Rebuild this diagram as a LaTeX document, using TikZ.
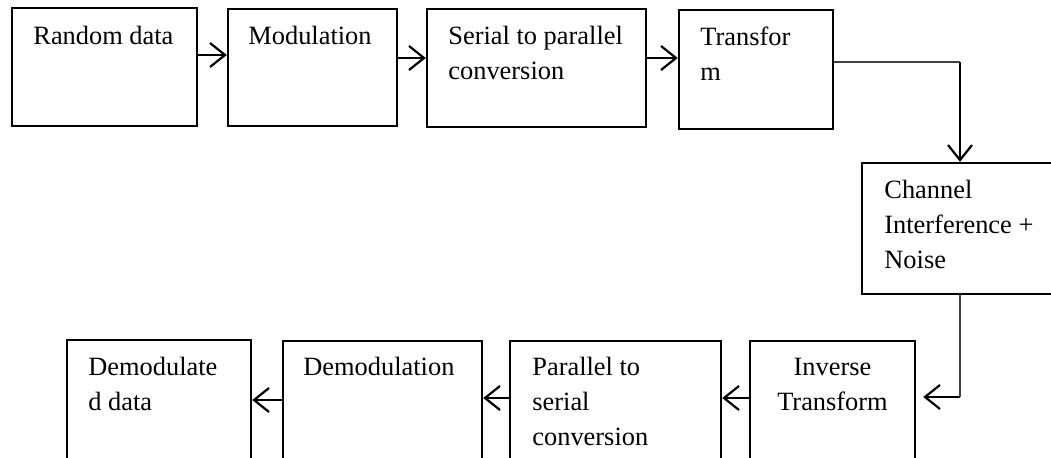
\documentclass[tikz,border=0pt]{standalone}
\usepackage{fontspec}
\setmainfont{Liberation Serif}
\usetikzlibrary{arrows.meta,fit}
\begin{document}
\begin{tikzpicture}[x=0.5pt,y=-0.5pt,
  box/.style={draw=black, line width=1.2pt, inner sep=0pt},
  txt/.style={inner sep=0pt, font=\fontsize{13.2}{17.5}\selectfont},
  arr/.style={draw=black, line width=1.1pt, -{Straight Barb[length=7.5pt,width=12pt,line width=1.1pt]}},
  wire/.style={draw=black!75, line width=0.6pt}]
\useasboundingbox (0,0) rectangle (1051,457);
\clip (0,0) rectangle (1051,457);

% transmitter chain
\node[box, fit={(12,8) (197,126)}] (b1) {};
\node[box, fit={(228,9) (397,126)}] (b2) {};
\node[box, fit={(427,9) (646,127)}] (b3) {};
\node[box, fit={(679,10) (833,129)}] (b4) {};
% channel
\node[box, fit={(862,163) (1058,294)}] (b5) {};
% receiver chain (runs off the lower edge)
\node[box, fit={(750,341) (915,480)}] (b6) {};
\node[box, fit={(510,341) (721,480)}] (b7) {};
\node[box, fit={(283,341) (482,480)}] (b8) {};
\node[box, fit={(67,340) (251,480)}] (b9) {};

% labels (multi-line labels are placed by the baseline of their last line)
\node[txt, anchor=base west] (t1) at (33,44) {Random data};
\node[txt, anchor=base west] (t2) at (248,44) {Modulation};
\node[txt, anchor=base west, align=left] (t3) at (448,79) {Serial to parallel\\conversion};
\node[txt, anchor=base west, align=left] (t4) at (700,80) {Transfor\\m};
\node[txt, anchor=base west, align=left] (t5) at (884,268) {Channel\\Interference +\\Noise};
\node[txt, anchor=base, align=center] (t6) at (832.5,410) {Inverse\\Transform};
\node[txt, anchor=base west, align=left] (t7) at (532,445) {Parallel to\\serial\\conversion};
\node[txt, anchor=base west] (t8) at (303,375) {Demodulation};
\node[txt, anchor=base west, align=left] (t9) at (88,410) {Demodulate\\d data};

% connectors
\draw[arr] (b1.east |- 0,55) -- (b2.west |- 0,55);
\draw[arr] (b2.east |- 0,58) -- (b3.west |- 0,58);
\draw[arr] (b3.east |- 0,58) -- (b4.west |- 0,58);

\coordinate (c1) at (960,62);
\draw[wire] (b4.east |- c1) -- (c1);
\draw[arr] (c1) -- (b5.north);

\coordinate (c2) at (960,397);
\draw[wire] (b5.south) -- (c2);
\draw[arr] (c2) -- ([xshift=3.5pt]b6.east |- c2);

\draw[arr] (b6.west |- 0,398) -- (b7.east |- 0,398);
\draw[arr] (b7.west |- 0,398) -- (b8.east |- 0,398);
\draw[arr] (b8.west |- 0,400) -- (b9.east |- 0,400);
\end{tikzpicture}
\end{document}
